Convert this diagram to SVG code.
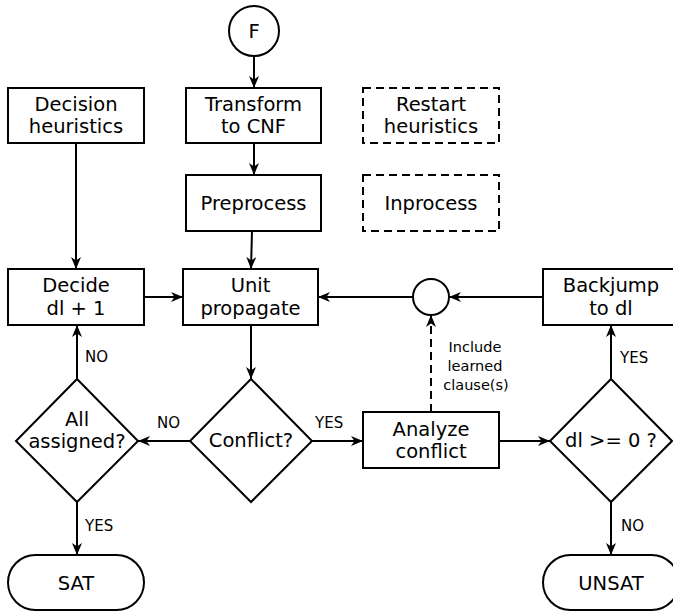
<svg xmlns="http://www.w3.org/2000/svg" width="673" height="611" viewBox="0 0 673 611">
  <style>
    .shape { fill: #fff; stroke: #000; stroke-width: 2; }
    .dash { stroke-dasharray: 8 5; }
    .lbl { font-family: "DejaVu Sans", sans-serif; font-size: 19.5px; fill: #000; text-anchor: middle; }
    .small { font-family: "DejaVu Sans", sans-serif; font-size: 15px; fill: #000; }
    .note { font-family: "DejaVu Sans", sans-serif; font-size: 14.5px; fill: #000; text-anchor: middle; }
    .edge { fill: none; stroke: #000; stroke-width: 2; marker-end: url(#arrow); }
  </style>
  <defs>
    <marker id="arrow" markerUnits="userSpaceOnUse" markerWidth="13" markerHeight="11" refX="12" refY="5" orient="auto">
      <path d="M0,0 L12,5 L0,10 L3.5,5 z" fill="#000"/>
    </marker>
  </defs>
  <rect width="673" height="611" fill="#fff"/>

  <g id="connectors">
    <line class="edge" x1="254" y1="56" x2="254" y2="88"/>
    <line class="edge" x1="254" y1="143" x2="254" y2="175"/>
    <line class="edge" x1="252" y1="231" x2="251" y2="269"/>
    <line class="edge" x1="76" y1="143" x2="76" y2="269"/>
    <line class="edge" x1="144" y1="297" x2="183" y2="297"/>
    <line class="edge" x1="413" y1="297" x2="318" y2="297"/>
    <line class="edge" x1="543" y1="297" x2="449" y2="297"/>
    <line class="edge" x1="251" y1="325" x2="251" y2="379"/>
    <line class="edge" x1="190" y1="441" x2="138" y2="441"/>
    <line class="edge" x1="312" y1="441" x2="363" y2="441"/>
    <line class="edge" x1="499" y1="441" x2="550" y2="441"/>
    <line class="edge" x1="431" y1="412" x2="431" y2="315" stroke-dasharray="8 5"/>
    <line class="edge" x1="77" y1="379" x2="77" y2="325"/>
    <line class="edge" x1="77" y1="502" x2="77" y2="555"/>
    <line class="edge" x1="611" y1="379" x2="611" y2="325"/>
    <line class="edge" x1="611" y1="502" x2="611" y2="555"/>
    <text class="small" x="85" y="362">NO</text>
    <text class="small" x="157" y="428">NO</text>
    <text class="small" x="315" y="428">YES</text>
    <text class="small" x="85" y="531">YES</text>
    <text class="small" x="620" y="363">YES</text>
    <text class="small" x="621" y="531">NO</text>
    <text class="note" x="475" y="352">Include</text>
    <text class="note" x="475" y="371">learned</text>
    <text class="note" x="476" y="390">clause(s)</text>
  </g>

  <g id="start">
    <circle class="shape" cx="254" cy="31" r="25"/>
    <text class="lbl" x="254" y="38">F</text>
  </g>
  <g id="decision-heuristics">
    <rect class="shape" x="8" y="88" width="136" height="55"/>
    <text class="lbl" x="76" y="111">Decision</text>
    <text class="lbl" x="76" y="133">heuristics</text>
  </g>
  <g id="transform">
    <rect class="shape" x="186" y="88" width="135" height="55"/>
    <text class="lbl" x="253.5" y="111">Transform</text>
    <text class="lbl" x="253.5" y="133">to CNF</text>
  </g>
  <g id="restart">
    <rect class="shape dash" x="363" y="88" width="136" height="55"/>
    <text class="lbl" x="431" y="111">Restart</text>
    <text class="lbl" x="431" y="133">heuristics</text>
  </g>
  <g id="preprocess">
    <rect class="shape" x="186" y="175" width="135" height="56"/>
    <text class="lbl" x="253.5" y="210">Preprocess</text>
  </g>
  <g id="inprocess">
    <rect class="shape dash" x="363" y="175" width="136" height="56"/>
    <text class="lbl" x="431" y="210">Inprocess</text>
  </g>
  <g id="decide">
    <rect class="shape" x="8" y="269" width="136" height="56"/>
    <text class="lbl" x="76" y="292">Decide</text>
    <text class="lbl" x="76" y="315">dl + 1</text>
  </g>
  <g id="unit-propagate">
    <rect class="shape" x="183" y="269" width="135" height="56"/>
    <text class="lbl" x="250.5" y="292">Unit</text>
    <text class="lbl" x="250.5" y="315">propagate</text>
  </g>
  <g id="join">
    <circle class="shape" cx="431" cy="297" r="18"/>
  </g>
  <g id="backjump">
    <rect class="shape" x="543" y="269" width="136" height="56"/>
    <text class="lbl" x="611" y="292">Backjump</text>
    <text class="lbl" x="611" y="315">to dl</text>
  </g>
  <g id="all-assigned">
    <polygon class="shape" points="77,379 138,441 77,502 16,441"/>
    <text class="lbl" x="77" y="426">All</text>
    <text class="lbl" x="77" y="448">assigned?</text>
  </g>
  <g id="conflict">
    <polygon class="shape" points="251,379 312,441 251,502 190,441"/>
    <text class="lbl" x="251" y="447">Conflict?</text>
  </g>
  <g id="analyze">
    <rect class="shape" x="363" y="412" width="136" height="56"/>
    <text class="lbl" x="431" y="436">Analyze</text>
    <text class="lbl" x="431" y="458">conflict</text>
  </g>
  <g id="level-check">
    <polygon class="shape" points="611,379 672,441 611,502 550,441"/>
    <text class="lbl" x="611" y="447">dl &gt;= 0 ?</text>
  </g>
  <g id="sat">
    <rect class="shape" x="8" y="555" width="136" height="55" rx="27.5" ry="27.5"/>
    <text class="lbl" x="76" y="590">SAT</text>
  </g>
  <g id="unsat">
    <rect class="shape" x="543" y="555" width="136" height="55" rx="27.5" ry="27.5"/>
    <text class="lbl" x="611" y="590">UNSAT</text>
  </g>
</svg>
